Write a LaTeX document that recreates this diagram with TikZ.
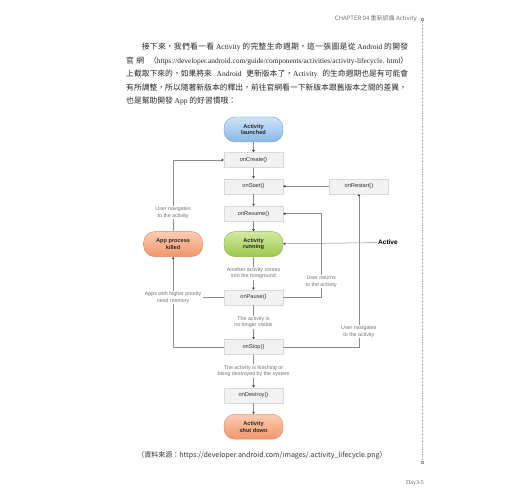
\documentclass[tikz,border=0pt]{standalone}
\usepackage{fontspec}
\setmainfont{Liberation Serif}
\setsansfont{Liberation Sans}
\newfontfamily\cjkfont{Noto Sans CJK TC}
\usetikzlibrary{arrows.meta, positioning, calc}
\definecolor{launchtop}{HTML}{CFE3F8}
\definecolor{launchbot}{HTML}{88B7E7}
\definecolor{launchdraw}{HTML}{6F9FD4}
\definecolor{runtop}{HTML}{D3EA9E}
\definecolor{runbot}{HTML}{9CC84E}
\definecolor{rundraw}{HTML}{86B13E}
\definecolor{killtop}{HTML}{FBCDB2}
\definecolor{killbot}{HTML}{F0956B}
\definecolor{killdraw}{HTML}{D7895E}
\newcommand\lat[1]{{\rmfamily\fontsize{7.5}{13.5}\selectfont #1}}
\newcommand\weblink[1]{\mbox{\XeTeXlinebreaklocale ""\rmfamily\fontsize{7.4}{13.5}\selectfont #1}}
\XeTeXlinebreaklocale "zh"
\XeTeXlinebreakskip=0pt plus 6pt minus 0.3pt

\begin{document}
\begin{tikzpicture}[x=1pt, y=1pt,
  state/.style={rounded corners=11pt, draw, line width=0.4pt, align=center, minimum width=59pt, minimum height=25pt, inner sep=0pt, text=black!85, font=\sffamily\bfseries\fontsize{5.6}{6.7}\selectfont},
  launchst/.style={state, top color=launchtop, bottom color=launchbot, draw=launchdraw},
  runst/.style={state, top color=runtop, bottom color=runbot, draw=rundraw},
  killst/.style={state, top color=killtop, bottom color=killbot, draw=killdraw},
  method/.style={draw=black!15, fill=black!5, minimum width=59pt, minimum height=15pt, inner sep=0pt, text=black!80, font=\sffamily\fontsize{5.7}{6.7}\selectfont},
  lbl/.style={fill=white, inner sep=1pt, align=center, text=black!55, font=\sffamily\fontsize{5.3}{6.4}\selectfont},
  line/.style={black!45, line width=0.5pt},
  flow/.style={line, -{Triangle[length=2.2pt, width=2.6pt, color=black!75]}}]
  \useasboundingbox (0,0) rectangle (520,-500);

  % page header, margin rule, page number
  \node[anchor=east, inner sep=0pt, text=black!55, font=\cjkfont\fontsize{6}{6.5}\selectfont] (chap) at (417,-19) {CHAPTER 04 重新認識 Activity};
  \draw[black!30, densely dotted] (422,-21) -- (422,-460);
  \draw[black!40, fill=white, line width=0.3pt] (420.8,-17.8) rectangle (423.2,-20.2);
  \draw[black!40, fill=white, line width=0.3pt] (420.8,-460.8) rectangle (423.2,-463.2);
  \node[text=black!60, inner sep=0pt, font=\rmfamily\fontsize{6}{7}\selectfont] (pg) at (415,-483) {Day3-5};

  % intro text
  \node[anchor=north west, text width=282pt, align=justify, inner sep=0pt, text=black!85,
        font=\cjkfont\fontsize{7.8}{13.5}\selectfont] (intro) at (126,-43)
    {\hspace*{2em}接下來，我們看一看 \lat{Activity} 的完整生命週期，這一張圖是從 \lat{Android} 的開發\linebreak
     官 網（\weblink{https://developer.android.com/guide/components/activities/activity-lifecycle. html}）\linebreak
     上截取下來的，如果將來 \lat{Android} 更新版本了，\lat{Activity} 的生命週期也是有可能會\linebreak
     有所調整，所以隨著新版本的釋出，前往官網看一下新版本跟舊版本之間的差異，\linebreak
     也是幫助開發 \lat{App} 的好習慣哦：};

  % lifecycle
  \node[launchst] (launched) at (253.5,-129.5) {Activity\\launched};
  \node[method, below=10pt of launched] (create) {onCreate()};
  \node[method, below=11pt of create] (start) {onStart()};
  \node[method, right=46pt of start] (restart) {onRestart()};
  \node[method, below=12pt of start] (resume) {onResume()};
  \node[runst, below=10pt of resume] (running) {Activity\\running};
  \node[killst, left=21pt of running] (killed) {App process\\killed};
  \node[method, below=33pt of running] (pause) {onPause()};
  \node[method, below=34pt of pause] (stop) {onStop()};
  \node[method, below=33pt of stop] (destroy) {onDestroy()};
  \node[killst, below=11pt of destroy] (shutdown) {Activity\\shut down};

  \foreach \a/\b in {launched/create, create/start, start/resume, resume/running, destroy/shutdown, restart/start}
    \draw[flow] (\a) -- (\b);
  \draw[flow] (running) -- node[lbl] {Another activity comes\\into the foreground} (pause);
  \draw[flow] (pause) -- node[lbl] {The activity is\\no longer visible} (stop);
  \draw[flow] (stop) -- node[lbl] {The activity is finishing or\\being destroyed by the system} (destroy);

  \coordinate (ret) at ($(pause.east)+(38,0)$);
  \draw[flow] (pause.east) -- (ret) -- node[lbl, pos=0.19] {User returns\\to the activity} (ret |- resume.east) -- (resume.east);
  \draw[flow] (stop.east) -| node[lbl, pos=0.55] {User navigates\\to the activity} (restart.south);
  \draw[flow] (stop.west) -| (killed.south);
  \node[lbl] (memory) at (killed.south |- pause) {Apps with higher priority\\need memory};
  \draw[line] (pause.west) -- (memory);
  \draw[flow] (killed.north) |- node[lbl, pos=0.13] {User navigates\\to the activity} (create.west);

  \node[anchor=west, inner sep=1pt, font=\sffamily\bfseries\fontsize{6.5}{7}\selectfont] (active) at (377,-242.5) {Active};
  \draw[flow] (active) -- (running);

  % source
  \node[text=black!80, font=\cjkfont\fontsize{7}{8}\selectfont] (src) at (262,-455) {（資料來源：https://developer.android.com/images/.activity\_lifecycle.png）};
\end{tikzpicture}
\end{document}
